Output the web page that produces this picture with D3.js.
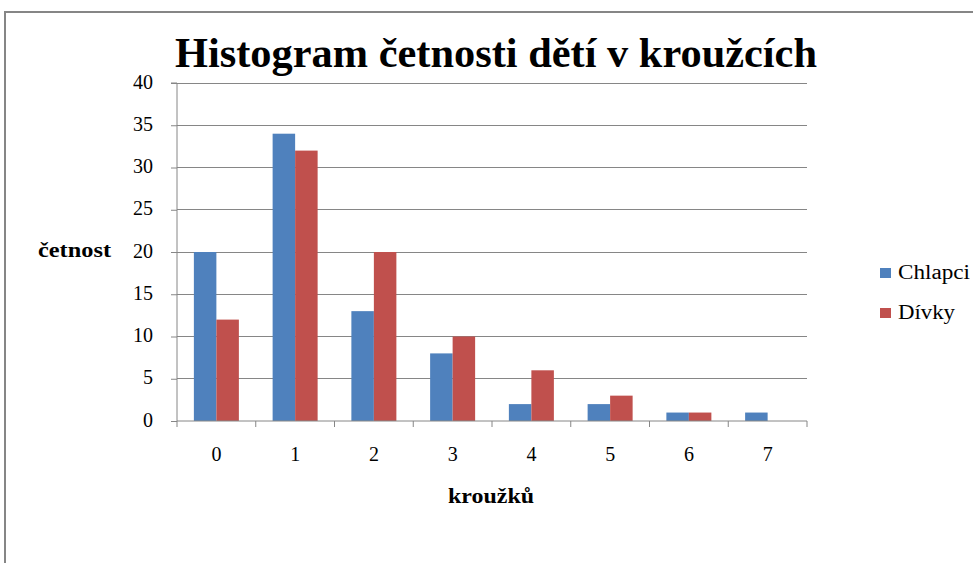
<!DOCTYPE html>
<html><head><meta charset="utf-8">
<script src="https://cdn.jsdelivr.net/npm/d3@7/dist/d3.min.js"></script>
<style>body{margin:0;background:#fff}svg{display:block}</style>
</head><body>
<script>
const categories = ["0","1","2","3","4","5","6","7"];
const seriesNames = ["Chlapci","Dívky"];
const chlapci = [20,34,13,8,2,2,1,1];
const divky = [12,32,20,10,6,3,1,0];
const yTicks = [0,5,10,15,20,25,30,35,40];
const colors = ["#4F81BD","#C0504D"];
const titleText = "Histogram četnosti dětí v kroužcích";
const yTitle = "četnost";
const xTitle = "kroužků";

const W=973,H=563;
const svg=d3.select("body").append("svg").attr("width",W).attr("height",H);
const font="'Liberation Serif','Times New Roman',serif";

// frame
svg.append("path").attr("d","M5,563 V12 H973").attr("fill","none").attr("stroke","#868686").attr("stroke-width",2);

const pL=177,pR=807,pT=83,pB=421;
const x=d3.scaleBand().domain(categories).range([pL,pR]).paddingInner(0.4286).paddingOuter(0.2143);
const x1=d3.scaleBand().domain(seriesNames).range([0,x.bandwidth()]);
const y=d3.scaleLinear().domain([0,40]).range([pB,pT]);

// gridlines
svg.append("g").selectAll("line").data(yTicks.filter(d=>d>0)).join("line")
 .attr("x1",pL).attr("x2",pR).attr("y1",d=>y(d)).attr("y2",d=>y(d))
 .attr("stroke","#868686").attr("stroke-width",1).attr("shape-rendering","crispEdges");

// y axis
const ya=svg.append("g").attr("transform",`translate(${pL},0)`)
 .call(d3.axisLeft(y).tickValues(yTicks).tickSize(6).tickPadding(18));
ya.select(".domain").attr("stroke","#868686").attr("d",`M-6,${pT}H0V${pB}`);
ya.selectAll(".tick line").attr("stroke","#868686");
ya.selectAll("text").attr("font-family",font).attr("font-size",20).attr("fill","#000").attr("dy","0.25em");

// bars
const data=[chlapci,divky];
const groups=svg.append("g").selectAll("g").data(categories).join("g")
 .attr("transform",d=>`translate(${x(d)},0)`);
groups.selectAll("rect").data((c,i)=>seriesNames.map((s,k)=>({s,v:data[k][i],k}))).join("rect")
 .attr("x",d=>x1(d.s)).attr("width",x1.bandwidth())
 .attr("y",d=>y(d.v)).attr("height",d=>pB-y(d.v)).attr("fill",d=>colors[d.k]);

// x axis
const step=(pR-pL)/categories.length;
const xa=svg.append("g");
xa.append("line").attr("x1",pL).attr("x2",pR).attr("y1",pB).attr("y2",pB).attr("stroke","#868686");
xa.selectAll(".t").data(d3.range(categories.length+1)).join("line").attr("class","t")
 .attr("x1",i=>pL+i*step).attr("x2",i=>pL+i*step).attr("y1",pB).attr("y2",pB+6).attr("stroke","#868686");
xa.selectAll("text").data(categories).join("text")
 .attr("x",d=>x(d)+x.bandwidth()/2).attr("y",461).attr("text-anchor","middle")
 .attr("font-family",font).attr("font-size",20).text(d=>d);

// title
svg.append("text").attr("x",496).attr("y",67).attr("text-anchor","middle")
 .attr("font-family",font).attr("font-weight","bold").attr("font-size",43)
 .attr("textLength",642).attr("lengthAdjust","spacingAndGlyphs").text(titleText);

svg.append("text").attr("x",38).attr("y",257).attr("font-family",font).attr("font-weight","bold").attr("font-size",21)
 .attr("textLength",73).attr("lengthAdjust","spacingAndGlyphs").text(yTitle);
svg.append("text").attr("x",448).attr("y",503).attr("font-family",font).attr("font-weight","bold").attr("font-size",21)
 .attr("textLength",86).attr("lengthAdjust","spacingAndGlyphs").text(xTitle);

// legend
const lgW=[72,57];
const lg=svg.append("g").selectAll("g").data(seriesNames).join("g")
 .attr("transform",(d,i)=>`translate(880,${268+i*40})`);
lg.append("rect").attr("width",11).attr("height",10).attr("fill",(d,i)=>colors[i]);
lg.append("text").attr("x",18).attr("y",11).attr("font-family",font).attr("font-size",20)
 .attr("textLength",(d,i)=>lgW[i]).attr("lengthAdjust","spacingAndGlyphs").text(d=>d);
</script>
</body></html>
